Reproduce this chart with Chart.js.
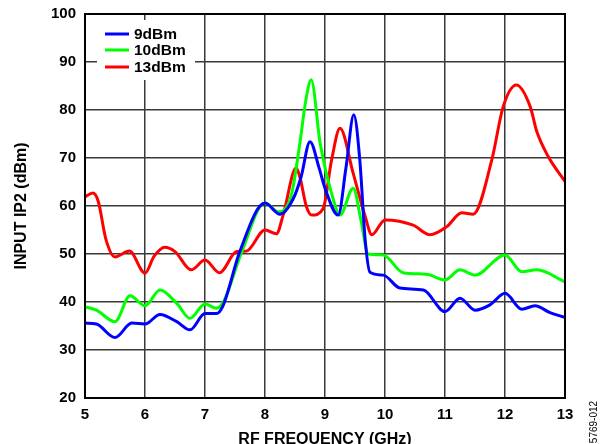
<!DOCTYPE html>
<html>
<head>
<meta charset="utf-8">
<script src="https://cdn.jsdelivr.net/npm/chart.js@4"></script>
<style>
  body { margin: 0; background: #fff; }
  #wrap { width: 605px; height: 444px; position: relative; }
</style>
</head>
<body>
<div id="wrap"><canvas id="myChart"></canvas></div>
<script>
// RF frequency (GHz) / input IP2 (dBm)
const freq9 = [5.0, 5.19, 5.5, 5.78, 6.0, 6.25, 6.53, 6.75, 7.0, 7.19, 7.3, 7.58, 8.0, 8.25, 8.47, 8.6, 8.75, 8.9, 9.0, 9.22, 9.35, 9.48, 9.58, 9.67, 9.75, 9.97, 10.25, 10.64, 11.0, 11.25, 11.5, 11.75, 12.0, 12.28, 12.5, 12.75, 13.0];
const ip2_9 = [35.6, 35.4, 32.6, 35.6, 35.4, 37.4, 35.9, 34.2, 37.6, 37.6, 39.2, 50.5, 60.6, 58.3, 61.5, 66, 73.4, 68, 63.7, 58.1, 68, 79, 69.6, 52.9, 46.2, 45.6, 42.9, 42.5, 38, 40.8, 38.3, 39.4, 41.8, 38.5, 39.2, 37.8, 36.8];

const freq10 = [5.0, 5.19, 5.5, 5.75, 6.0, 6.25, 6.53, 6.75, 7.0, 7.19, 7.31, 7.6, 8.0, 8.22, 8.44, 8.58, 8.68, 8.77, 8.92, 9.14, 9.25, 9.47, 9.6, 9.72, 9.97, 10.3, 10.69, 11.0, 11.25, 11.5, 12.0, 12.28, 12.53, 13.0];
const ip2_10 = [39, 38.3, 35.9, 41.3, 39.2, 42.5, 39.7, 36.6, 39.6, 38.7, 40.1, 50, 60.6, 58.8, 62.3, 73, 82, 86.3, 73, 61.3, 58.1, 63.7, 57, 50, 49.8, 46.1, 45.8, 44.6, 46.7, 45.6, 49.8, 46.3, 46.7, 44.2];

const freq13 = [5.0, 5.13, 5.22, 5.35, 5.5, 5.74, 6.0, 6.15, 6.33, 6.5, 6.77, 7.0, 7.24, 7.53, 7.69, 8.0, 8.19, 8.3, 8.52, 8.58, 8.69, 8.78, 8.97, 9.11, 9.25, 9.47, 9.67, 9.78, 10.0, 10.47, 10.75, 11.03, 11.28, 11.47, 11.78, 11.97, 12.19, 12.42, 12.53, 12.72, 13.0];
const ip2_13 = [61.9, 62.7, 61, 53, 49.4, 50.6, 46, 49.5, 51.4, 50.5, 46.7, 48.75, 46.1, 50.5, 50.6, 55, 54.2, 58, 67.9, 66.1, 59.9, 58.1, 59.5, 69.6, 76.2, 66.8, 57.8, 54, 57.1, 56, 54, 55.7, 58.6, 58.3, 69.6, 80.7, 85.2, 80.7, 75.5, 70.3, 65.1];

const seriesNames = ["9dBm", "10dBm", "13dBm"];
const seriesColors = ["#0000ff", "#00ff00", "#ff0000"];
const xTicks = [5, 6, 7, 8, 9, 10, 11, 12, 13];
const yTicks = [20, 30, 40, 50, 60, 70, 80, 90, 100];

function toPoints(xs, ys) {
  return xs.map((x, i) => ({ x: x, y: ys[i] }));
}

const font = "'Liberation Sans', Arial, sans-serif";

// legend box + frame + figure number
const extras = {
  id: "extras",
  afterDraw(chart) {
    const c = chart.ctx;
    const a = chart.chartArea;
    c.save();
    c.fillStyle = "#fff";
    c.fillRect(97, 20, 98, 60);
    c.font = "bold 15.5px " + font;
    c.textBaseline = "middle";
    const rows = [34, 50, 67];
    seriesNames.forEach((name, i) => {
      c.strokeStyle = seriesColors[i];
      c.lineWidth = 3;
      c.beginPath();
      c.moveTo(105, rows[i]);
      c.lineTo(129, rows[i]);
      c.stroke();
      c.fillStyle = "#000";
      c.fillText(name, 134, rows[i] + 1);
    });
    c.strokeStyle = "#000";
    c.lineWidth = 2;
    c.strokeRect(a.left, a.top, a.right - a.left, a.bottom - a.top);
    c.translate(594, 422);
    c.rotate(-Math.PI / 2);
    c.font = "10px " + font;
    c.textAlign = "center";
    c.fillStyle = "#000";
    c.fillText("5769-012", 0, 0);
    c.restore();
  },
};

const config = {
  type: "line",
  data: {
    datasets: [
      { label: seriesNames[0], data: toPoints(freq9, ip2_9), borderColor: seriesColors[0] },
      { label: seriesNames[1], data: toPoints(freq10, ip2_10), borderColor: seriesColors[1] },
      { label: seriesNames[2], data: toPoints(freq13, ip2_13), borderColor: seriesColors[2] },
    ].map((d) => Object.assign(d, {
      borderWidth: 3,
      pointRadius: 0,
      fill: false,
      cubicInterpolationMode: "monotone",
    })),
  },
  options: {
    responsive: true,
    maintainAspectRatio: false,
    animation: false,
    layout: { padding: { top: 14, right: 40, left: 0, bottom: 0 } },
    plugins: {
      legend: { display: false },
      tooltip: { enabled: false },
    },
    scales: {
      x: {
        type: "linear",
        min: 5,
        max: 13,
        afterBuildTicks: (s) => { s.ticks = xTicks.map((v) => ({ value: v })); },
        afterFit: (s) => { s.height = 46; s.paddingLeft = 0; s.paddingRight = 0; },
        ticks: {
          color: "#000",
          padding: 8,
          maxRotation: 0,
          font: { family: font, size: 15, weight: "bold" },
        },
        grid: { color: "#3a3a3a", lineWidth: 1.5, drawTicks: false },
        border: { color: "#000", width: 2 },
        title: {
          display: true,
          text: "RF FREQUENCY (GHz)",
          color: "#000",
          font: { family: font, size: 16, weight: "bold", lineHeight: 0.6 },
          padding: { top: 0, bottom: 0 },
        },
      },
      y: {
        min: 20,
        max: 100,
        afterBuildTicks: (s) => { s.ticks = yTicks.map((v) => ({ value: v })); },
        afterFit: (s) => { s.width = 85; s.paddingTop = 0; s.paddingBottom = 0; },
        ticks: {
          color: "#000",
          padding: 9,
          font: { family: font, size: 15, weight: "bold" },
        },
        grid: { color: "#3a3a3a", lineWidth: 1.5, drawTicks: false },
        border: { color: "#000", width: 2 },
        title: {
          display: true,
          text: "INPUT IP2 (dBm)",
          color: "#000",
          font: { family: font, size: 16, weight: "bold", lineHeight: 1.2 },
          padding: { top: 12, bottom: 0 },
        },
      },
    },
  },
  plugins: [extras],
};

const myChart = new Chart(document.getElementById("myChart").getContext("2d"), config);
</script>
</body>
</html>
